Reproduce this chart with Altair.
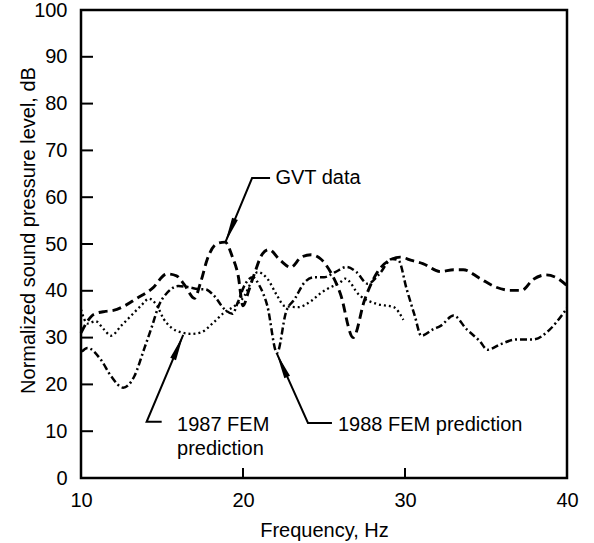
import altair as alt
import pandas as pd

FONT = "Liberation Sans"

# ---- data ----
gvt_x = [10.0, 10.4, 10.8, 11.5, 12.0, 12.7, 13.4, 14.4, 15.3, 15.9, 16.4, 17.0, 17.4, 17.8, 18.4, 18.9,
         19.35, 19.7, 20.0, 20.35, 20.7, 21.2, 21.6, 22.3, 22.95, 23.6, 24.2, 24.8, 25.5, 26.0, 26.8,
         27.5, 28.3, 29.2, 29.7, 30.4, 31.1, 32.2, 33.0, 33.6, 34.6, 35.6, 36.5, 37.2, 37.9, 38.7, 39.4, 40.0]
gvt_y = [31.0, 33.5, 35.0, 35.6, 35.8, 36.8, 38.3, 40.5, 43.6, 43.2, 41.2, 38.4, 42.0, 46.8, 50.1, 50.4,
         47.2, 43.3, 36.8, 40.0, 43.6, 47.9, 48.8, 46.5, 45.0, 47.2, 47.7, 46.8, 43.4, 39.5, 30.0,
         38.0, 44.0, 46.8, 47.2, 46.5, 45.8, 44.1, 44.5, 44.5, 42.7, 40.8, 40.1, 40.1, 42.4, 43.4, 42.7, 41.1]

fem87_x = [10.0, 10.4, 10.9, 11.4, 11.85, 12.5, 13.1, 13.7, 14.2, 14.7, 15.1, 15.55, 16.2, 16.8, 17.4,
           18.2, 18.85, 19.5, 20.1, 20.5, 20.9, 21.5, 22.1, 22.55, 23.4, 24.2, 24.8, 25.2, 26.0, 26.3,
           27.2, 28.25, 29.3, 29.9]
fem87_y = [36.0, 33.0, 33.5, 31.8, 30.4, 32.6, 34.7, 36.8, 38.3, 36.8, 34.0, 32.2, 31.1, 30.8, 31.1,
           33.3, 35.4, 36.8, 39.0, 41.8, 44.0, 42.6, 39.0, 36.8, 36.5, 37.8, 39.5, 40.4, 41.8, 42.6,
           39.0, 37.2, 36.5, 33.8]

fem88_x = [10.05, 10.4, 11.2, 11.85, 12.6, 13.3, 13.9, 14.4, 14.8, 15.35, 16.0, 16.6, 17.2, 17.7, 18.2,
           18.85, 19.35, 19.7, 20.1, 20.6, 21.0, 21.5, 22.1, 22.65, 23.2, 23.8, 24.4, 25.0, 25.7, 26.4,
           27.0, 27.7, 28.4, 29.2, 29.6, 30.1, 30.6, 31.0, 31.75, 32.2, 33.0, 33.8, 34.6, 35.1, 35.9,
           36.9, 37.9, 38.9, 39.75, 40.0]
fem88_y = [27.0, 27.8, 25.4, 21.8, 19.3, 21.8, 27.6, 32.6, 36.8, 39.7, 41.0, 40.8, 40.4, 40.3, 39.0,
           36.1, 35.1, 37.7, 41.2, 42.9, 41.2, 36.8, 26.7, 35.4, 38.3, 41.8, 42.9, 42.9, 44.0, 45.1,
           44.0, 41.5, 43.5, 46.8, 46.5, 40.4, 34.7, 30.4, 31.8, 32.5, 34.7, 31.8, 29.3, 27.4, 28.6,
           29.6, 29.6, 31.6, 35.1, 36.3]

x_tick_labels = [10, 20, 30, 40]
y_tick_labels = [0, 10, 20, 30, 40, 50, 60, 70, 80, 90, 100]
x_inner_ticks = [20, 30]
y_inner_ticks = [10, 20, 30, 40, 50, 60, 70, 80, 90]

# annotations (data coordinates)
label_text = ["GVT data", "1987 FEM", "prediction", "1988 FEM prediction"]
label_x = [22.0, 15.93, 15.93, 25.86]
label_y = [64.1, 11.3, 6.2, 11.3]

leader_grp = ["gvt", "gvt", "gvt", "f87", "f87", "f87", "f88", "f88", "f88"]
leader_ord = [0, 1, 2, 0, 1, 2, 0, 1, 2]
leader_x = [21.67, 20.56, 18.89, 14.98, 14.05, 16.31, 25.49, 24.01, 22.08]
leader_y = [64.1, 64.1, 50.2, 12.0, 12.0, 30.6, 11.75, 11.75, 26.7]

head_x = [19.2, 16.0, 22.4]
head_y = [52.8, 28.0, 24.1]
head_angle = [202.5, 22.9, 335.9]

# ---- scales ----
xs = alt.Scale(domain=[10, 40], nice=False, zero=False)
ys = alt.Scale(domain=[0, 100], nice=False, zero=False)

def series(xv, yv, dash, width):
    df = pd.DataFrame({"f": xv, "v": yv})
    return alt.Chart(df).mark_line(
        color="black", strokeDash=dash, strokeWidth=width, interpolate="monotone"
    ).encode(
        x=alt.X("f:Q", scale=xs,
                axis=alt.Axis(values=x_tick_labels, title="Frequency, Hz", labelBaseline="alphabetic",
                              labelPadding=28, labelFlush=False, titleBaseline="alphabetic", titleY=58,
                              format="d")),
        y=alt.Y("v:Q", scale=ys,
                axis=alt.Axis(values=y_tick_labels, title="Normalized sound pressure level, dB",
                              labelPadding=14, labelFlush=False, titleX=-47, titleY=220,
                              titleBaseline="alphabetic", titleAngle=270, format="d")),
    )

gvt = series(gvt_x, gvt_y, [9, 5], 2.9)
f87 = series(fem87_x, fem87_y, [2, 3], 2.3)
f88 = series(fem88_x, fem88_y, [7, 3, 2, 3], 2.5)

yt = alt.Chart(pd.DataFrame({"v": y_inner_ticks})).mark_rule(color="black", strokeWidth=2).encode(
    y=alt.Y("v:Q", scale=ys), x=alt.value(0), x2=alt.value(12))
xt = alt.Chart(pd.DataFrame({"f": x_inner_ticks})).mark_rule(color="black", strokeWidth=2).encode(
    x=alt.X("f:Q", scale=xs), y=alt.value(468), y2=alt.value(458))

leaders = alt.Chart(pd.DataFrame({"f": leader_x, "v": leader_y, "g": leader_grp, "o": leader_ord})).mark_line(
    color="black", strokeWidth=2).encode(
    x=alt.X("f:Q", scale=xs), y=alt.Y("v:Q", scale=ys), detail="g:N", order="o:Q")

heads = alt.Chart(pd.DataFrame({"f": head_x, "v": head_y, "a": head_angle})).mark_point(
    shape="M0,-1L0.24,1L-0.24,1Z", size=676, filled=True, color="black", opacity=1, strokeWidth=0).encode(
    x=alt.X("f:Q", scale=xs), y=alt.Y("v:Q", scale=ys), angle=alt.Angle("a:Q", scale=None))

texts = alt.Chart(pd.DataFrame({"f": label_x, "v": label_y, "t": label_text})).mark_text(
    align="left", baseline="middle", font=FONT, fontSize=20, color="black").encode(
    x=alt.X("f:Q", scale=xs), y=alt.Y("v:Q", scale=ys), text="t:N")

chart = alt.layer(gvt, f87, f88, yt, xt, leaders, heads, texts).properties(
    width=486, height=468,
    autosize=alt.AutoSizeParams(type="none"),
    padding={"left": 81, "top": 10, "right": 27, "bottom": 65},
    background="white",
).configure_view(stroke="black", strokeWidth=2.5).configure_axis(
    grid=False, domain=False, ticks=False, tickSize=0,
    labelFont=FONT, labelFontSize=20, labelColor="black",
    titleFont=FONT, titleFontSize=20, titleFontWeight="normal", titleColor="black",
)

chart.save("out.html", embed_options={"renderer": "svg", "actions": False})
